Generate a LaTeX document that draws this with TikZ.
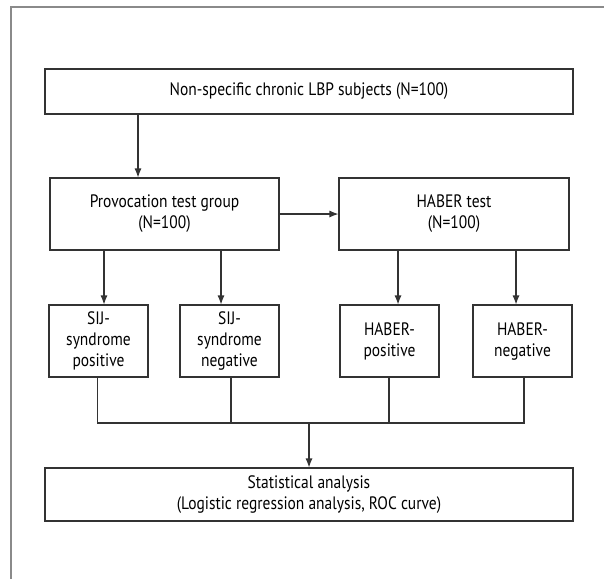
\documentclass[tikz,border=0pt]{standalone}
\usepackage{fontspec}
\setmainfont{PT Sans}[FakeStretch=0.86]
\usetikzlibrary{arrows.meta}
\definecolor{boxline}{HTML}{333333}
\definecolor{framegray}{HTML}{8A8A8A}
\begin{document}
\begin{tikzpicture}[x=1pt,y=-1pt,
  every node/.style={font=\fontsize{18}{21}\selectfont},
  box/.style={draw=boxline,line width=1.1pt,align=center,inner sep=0pt,anchor=center},
  arr/.style={draw=boxline,line width=1.1pt,-{Latex[length=9pt,width=7pt]}},
  ln/.style={draw=boxline,line width=1.1pt}]
\useasboundingbox (0,0) rectangle (604,579);
\draw[framegray,line width=1.2pt] (604,7) -- (11,7) -- (11,579);
\node[box,minimum width=528pt,minimum height=45pt] (top) at (309,91.5) {Non-specific chronic LBP subjects (N=100)};
\node[box,minimum width=229pt,minimum height=72pt] (prov) at (164.5,214) {Provocation test group\\(N=100)};
\node[box,minimum width=230pt,minimum height=72pt] (haber) at (454,214) {HABER test\\(N=100)};
\node[box,minimum width=99pt,minimum height=72pt] (sijp) at (98.5,341) {SIJ-\\syndrome\\positive};
\node[box,minimum width=99pt,minimum height=72pt] (sijn) at (229.5,341) {SIJ-\\syndrome\\negative};
\node[box,minimum width=99pt,minimum height=72pt] (habp) at (389.5,341) {HABER-\\positive};
\node[box,minimum width=99pt,minimum height=72pt] (habn) at (522.5,341) {HABER-\\negative};
\node[box,minimum width=528pt,minimum height=53pt] (stat) at (309,494.5) {Statistical analysis\\(Logistic regression analysis, ROC curve)};
\coordinate (x1) at (138,0);
\coordinate (x2) at (104,0);
\coordinate (x3) at (221,0);
\coordinate (x4) at (398,0);
\coordinate (x5) at (516,0);
\coordinate (x6) at (97.5,0);
\coordinate (x7) at (231,0);
\coordinate (x8) at (389,0);
\coordinate (x9) at (524,0);
\coordinate (jy) at (0,423);
\coordinate (xs) at (309,0);
\draw[arr] (top.south -| x1) -- (prov.north -| x1);
\draw[arr] (prov.east) -- (haber.west);
\draw[arr] (prov.south -| x2) -- (sijp.north -| x2);
\draw[arr] (prov.south -| x3) -- (sijn.north -| x3);
\draw[arr] (haber.south -| x4) -- (habp.north -| x4);
\draw[arr] (haber.south -| x5) -- (habn.north -| x5);
\draw[ln] (sijp.south -| x6) -- (jy -| x6) -- (jy -| x9) -- (habn.south -| x9);
\draw[ln] (sijn.south -| x7) -- (jy -| x7);
\draw[ln] (habp.south -| x8) -- (jy -| x8);
\draw[arr] (jy -| xs) -- (stat.north -| xs);
\end{tikzpicture}
\end{document}
